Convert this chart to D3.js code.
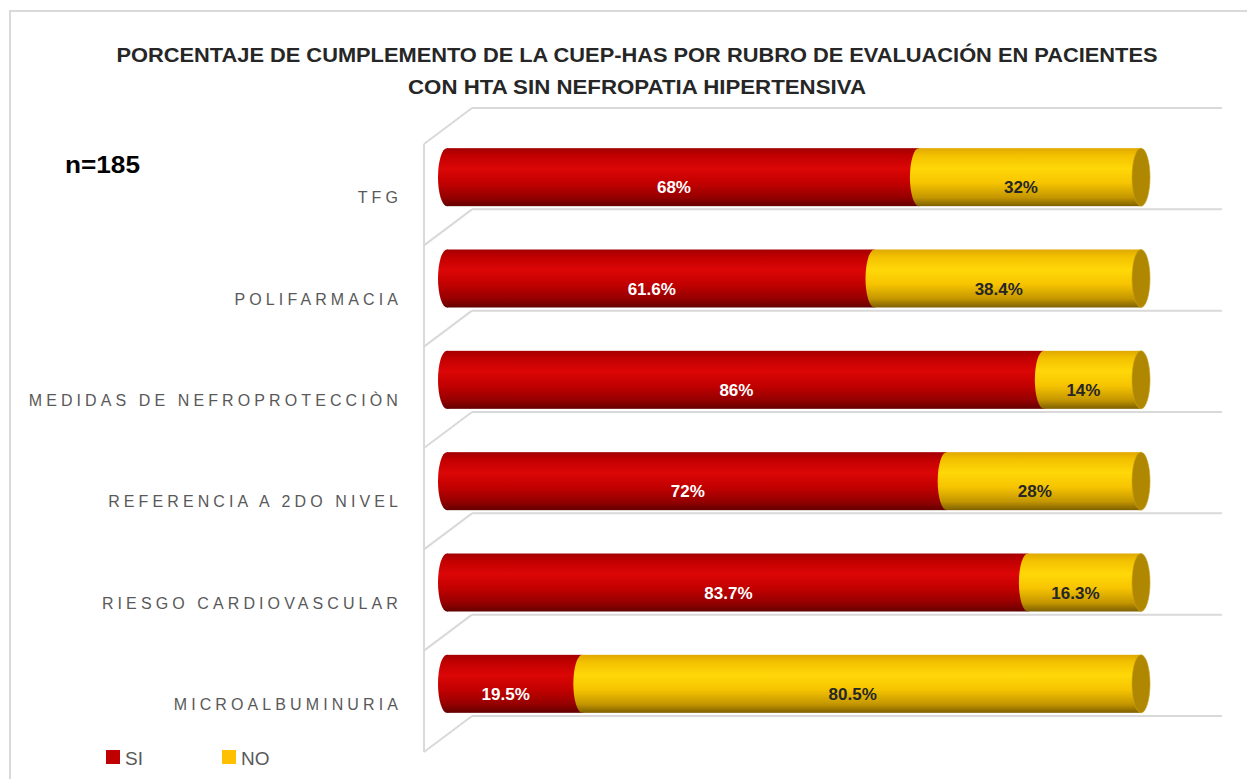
<!DOCTYPE html>
<html>
<head>
<meta charset="utf-8">
<script src="https://cdn.jsdelivr.net/npm/d3@7"></script>
<style>
  body { margin: 0; background: #fff; }
  svg { display: block; }
</style>
</head>
<body>
<div id="chart"></div>
<script>
// data
var categories = ["TFG", "POLIFARMACIA", "MEDIDAS DE NEFROPROTECCIÒN", "REFERENCIA A 2DO NIVEL", "RIESGO CARDIOVASCULAR", "MICROALBUMINURIA"];
var siValues = [68, 61.6, 86, 72, 83.7, 19.5];
var noValues = [32, 38.4, 14, 28, 16.3, 80.5];
var siLabels = ["68%", "61.6%", "86%", "72%", "83.7%", "19.5%"];
var noLabels = ["32%", "38.4%", "14%", "28%", "16.3%", "80.5%"];
var seriesNames = ["SI", "NO"];
var titleLines = ["PORCENTAJE DE CUMPLEMENTO DE LA CUEP-HAS POR RUBRO DE EVALUACIÓN EN PACIENTES", "CON HTA SIN NEFROPATIA HIPERTENSIVA"];

var width = 1247, height = 779;
var svg = d3.select("#chart").append("svg")
  .attr("width", width).attr("height", height);

var defs = svg.append("defs");
function cylGrad(id, stops) {
  var g = defs.append("linearGradient").attr("id", id)
    .attr("x1", 0).attr("y1", 0).attr("x2", 0).attr("y2", 1);
  stops.forEach(function(s) {
    g.append("stop").attr("offset", s[0]).attr("stop-color", s[1]);
  });
}
cylGrad("gRed", [[0, "#a30000"], [0.12, "#c00000"], [0.35, "#dc0606"], [0.6, "#c20000"], [0.85, "#950000"], [1, "#640000"]]);
cylGrad("gYel", [[0, "#e0a800"], [0.12, "#f2c000"], [0.35, "#ffd808"], [0.6, "#f6c400"], [0.85, "#c49600"], [1, "#7e6000"]]);

// outer frame
svg.append("rect").attr("x", 10).attr("y", 11).attr("width", 1250).attr("height", 800)
  .attr("fill", "none").attr("stroke", "#d9d9d9").attr("stroke-width", 2);

// title
svg.append("g").selectAll("text").data(titleLines).enter().append("text")
  .attr("x", 637).attr("y", function(d, i) { return 62 + i * 32; })
  .attr("text-anchor", "middle")
  .attr("font-family", "Liberation Sans, Arial, sans-serif")
  .attr("font-weight", "bold").attr("font-size", 21).attr("fill", "#262626")
  .attr("textLength", function(d, i) { return i == 0 ? 1041 : 458; })
  .attr("lengthAdjust", "spacingAndGlyphs")
  .text(function(d) { return d; });

svg.append("text").attr("x", 65).attr("y", 173)
  .attr("font-family", "Liberation Sans, Arial, sans-serif")
  .attr("font-weight", "bold").attr("font-size", 24).attr("fill", "#000")
  .attr("textLength", 75).attr("lengthAdjust", "spacingAndGlyphs")
  .text("n=185");

// scales
var x = d3.scaleLinear().domain([0, 100]).range([447, 1141]);
var y = d3.scaleBand().domain(categories).range([126.5, 734.5]).padding(0);
var depthX = 48, depthY = 36;
var frontX = 424;
var barH = 58, capRx = 9;

// back wall gridlines + floor diagonals
var grid = svg.append("g").attr("stroke", "#d9d9d9").attr("stroke-width", 2).attr("fill", "none");
var gridYs = categories.map(function(c) { return y(c) - 18.5; });
gridYs.push(y(categories[categories.length - 1]) + y.step() - 18.5);
gridYs.forEach(function(gy) {
  grid.append("line").attr("x1", frontX + depthX).attr("x2", 1222).attr("y1", gy).attr("y2", gy);
  grid.append("line").attr("x1", frontX).attr("y1", gy + depthY).attr("x2", frontX + depthX).attr("y2", gy);
});
grid.append("line").attr("x1", frontX).attr("x2", frontX)
  .attr("y1", gridYs[0] + depthY).attr("y2", gridYs[gridYs.length - 1] + depthY);

// category labels
svg.append("g").selectAll("text").data(categories).enter().append("text")
  .attr("x", 402).attr("y", function(d) { return y(d) + y.step() / 2 + 26; })
  .attr("text-anchor", "end")
  .attr("font-family", "Liberation Sans, Arial, sans-serif")
  .attr("font-size", 16).attr("letter-spacing", 4.1).attr("fill", "#595959")
  .text(function(d) { return d; });

// cylinders
var rows = categories.map(function(c, i) {
  return { cat: c, si: siValues[i], no: noValues[i], siL: siLabels[i], noL: noLabels[i] };
});
var bars = svg.append("g").selectAll("g").data(rows).enter().append("g")
  .attr("transform", function(d) { return "translate(0," + (y(d.cat) + y.step() / 2) + ")"; });

// SI segment
bars.append("rect")
  .attr("x", function(d) { return x(0); }).attr("y", -barH / 2)
  .attr("width", function(d) { return x(d.si) - x(0); }).attr("height", barH)
  .attr("fill", "url(#gRed)");
bars.append("ellipse")
  .attr("cx", x(0)).attr("cy", 0).attr("rx", capRx).attr("ry", barH / 2)
  .attr("fill", "url(#gRed)");

// NO segment
bars.append("rect")
  .attr("x", function(d) { return x(d.si); }).attr("y", -barH / 2)
  .attr("width", function(d) { return x(d.si + d.no) - x(d.si); }).attr("height", barH)
  .attr("fill", "url(#gYel)");
bars.append("ellipse")
  .attr("cx", function(d) { return x(d.si); }).attr("cy", 0).attr("rx", capRx).attr("ry", barH / 2)
  .attr("fill", "url(#gYel)");
// end cap
bars.append("ellipse")
  .attr("cx", function(d) { return x(d.si + d.no); }).attr("cy", 0).attr("rx", capRx).attr("ry", barH / 2)
  .attr("fill", "#b08700").attr("stroke", "#c9a21a").attr("stroke-width", 0.6);

// value labels
bars.append("text")
  .attr("x", function(d) { return (x(0) + x(d.si)) / 2 - 9; }).attr("y", 16)
  .attr("text-anchor", "middle")
  .attr("font-family", "Liberation Sans, Arial, sans-serif")
  .attr("font-weight", "bold").attr("font-size", 17).attr("fill", "#fff")
  .text(function(d) { return d.siL; });
bars.append("text")
  .attr("x", function(d) { return (x(d.si) + x(d.si + d.no)) / 2 - 9; }).attr("y", 16)
  .attr("text-anchor", "middle")
  .attr("font-family", "Liberation Sans, Arial, sans-serif")
  .attr("font-weight", "bold").attr("font-size", 17).attr("fill", "#262626")
  .text(function(d) { return d.noL; });

// legend
var legColors = ["#c00000", "#ffc000"];
var leg = svg.append("g").selectAll("g").data(seriesNames).enter().append("g")
  .attr("transform", function(d, i) { return "translate(" + (106 + i * 116) + ",750)"; });
leg.append("rect").attr("width", 14).attr("height", 14)
  .attr("fill", function(d, i) { return legColors[i]; });
leg.append("text").attr("x", 19).attr("y", 15)
  .attr("font-family", "Liberation Sans, Arial, sans-serif")
  .attr("font-size", 19).attr("fill", "#595959")
  .text(function(d) { return d; });
</script>
</body>
</html>
